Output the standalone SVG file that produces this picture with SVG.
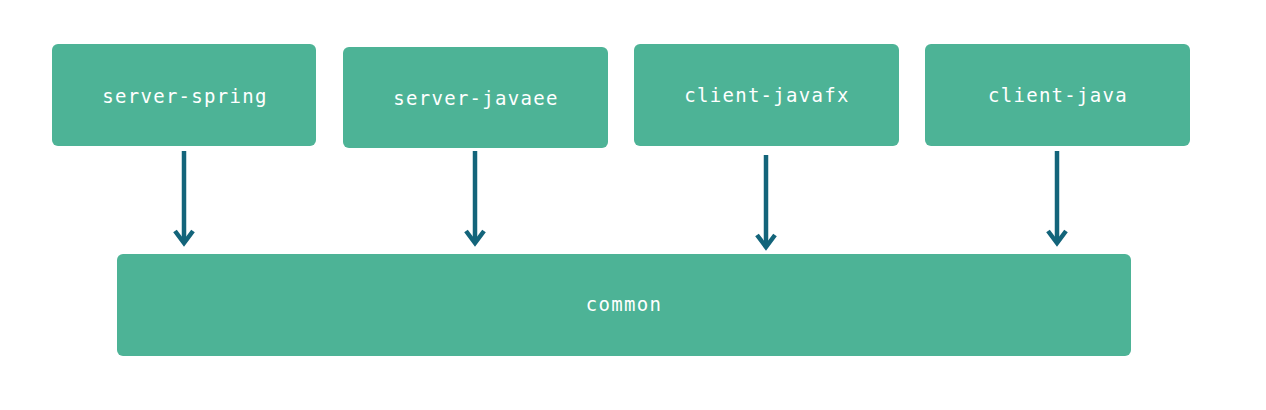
<svg xmlns="http://www.w3.org/2000/svg" width="1266" height="410" viewBox="0 0 1266 410">
<defs>
<style>
.box{fill:#4db396;}
.lbl{fill:#ffffff;font-family:"DejaVu Sans Mono","Liberation Mono",monospace;font-size:19px;letter-spacing:1.3px;text-anchor:middle;}
.arr{stroke:#13647a;stroke-width:4.5;fill:none;}
.head{stroke:#13647a;stroke-width:4.5;fill:none;stroke-linecap:butt;stroke-linejoin:miter;}
</style>
</defs>
<rect width="1266" height="410" fill="#ffffff"/>
<g id="server-spring"><rect class="box" x="52" y="44" width="264" height="102" rx="6"/><text class="lbl" x="185" y="103">server-spring</text></g>
<g id="server-javaee"><rect class="box" x="343" y="47" width="265" height="101" rx="6"/><text class="lbl" x="476" y="105">server-javaee</text></g>
<g id="client-javafx"><rect class="box" x="634" y="44" width="265" height="102" rx="6"/><text class="lbl" x="767" y="102">client-javafx</text></g>
<g id="client-java"><rect class="box" x="925" y="44" width="265" height="102" rx="6"/><text class="lbl" x="1058" y="102">client-java</text></g>
<g id="common"><rect class="box" x="117" y="254" width="1014" height="102" rx="6"/><text class="lbl" x="624" y="311">common</text></g>
<g id="connectors">
<line class="arr" x1="184" y1="151" x2="184" y2="242"/><polyline class="head" points="175,231 184,243 193,231"/>
<line class="arr" x1="475" y1="151" x2="475" y2="242"/><polyline class="head" points="466,231 475,243 484,231"/>
<line class="arr" x1="766" y1="155" x2="766" y2="246"/><polyline class="head" points="757,235 766,247 775,235"/>
<line class="arr" x1="1057" y1="151" x2="1057" y2="242"/><polyline class="head" points="1048,231 1057,243 1066,231"/>
</g>
</svg>
